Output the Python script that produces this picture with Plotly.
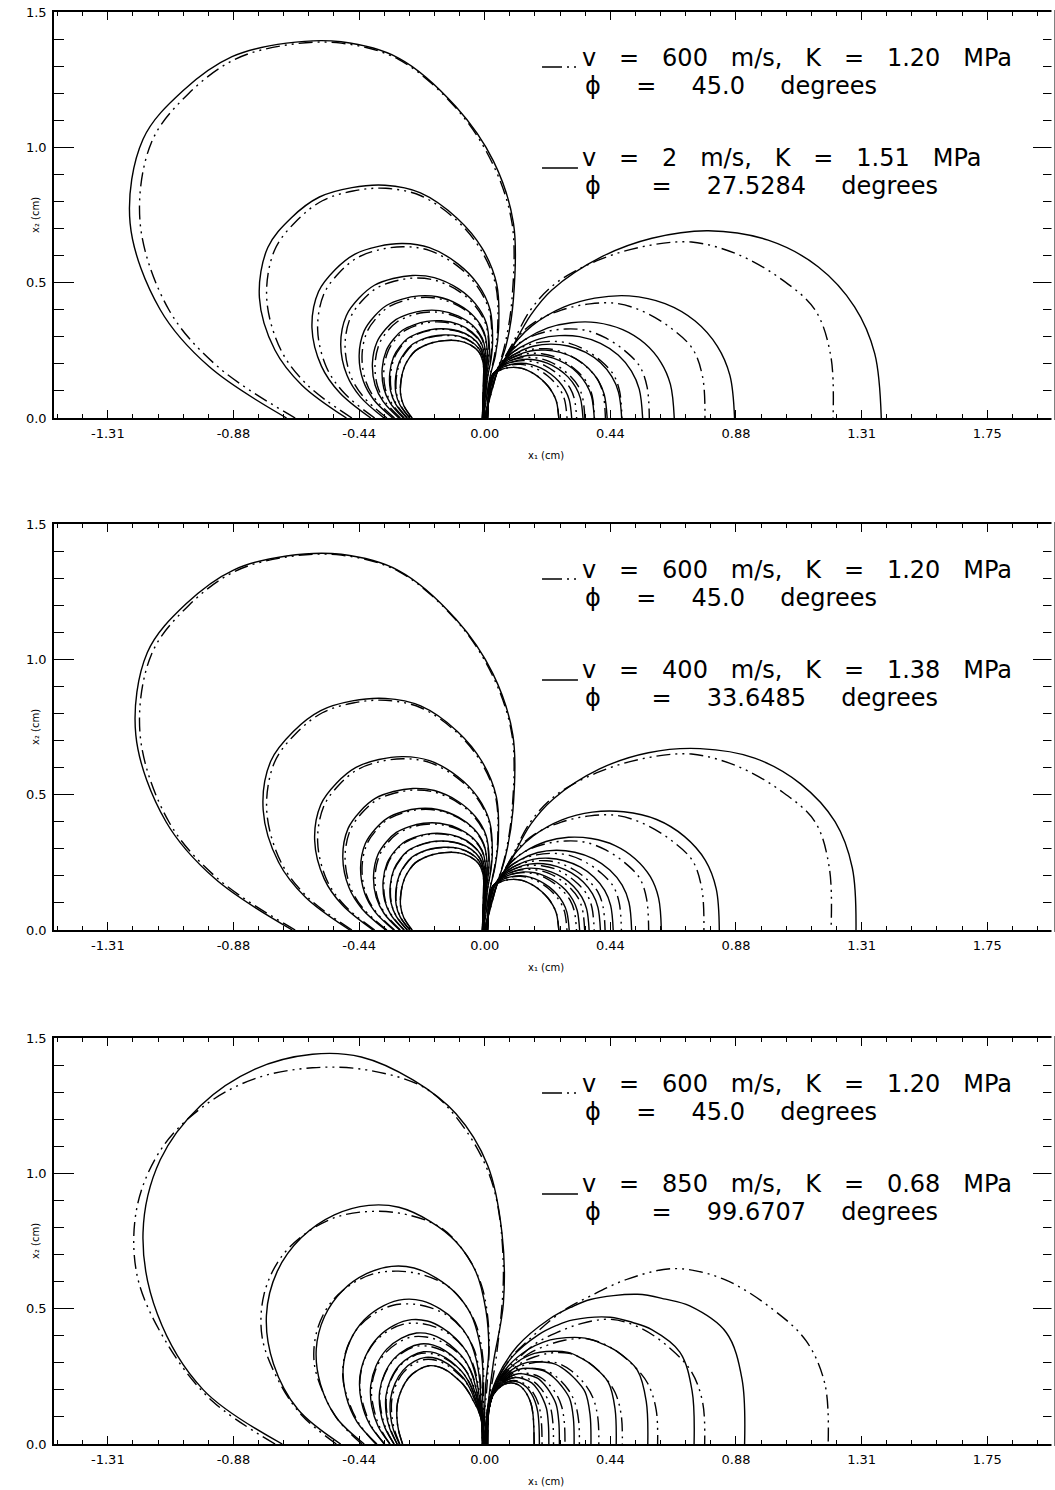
import plotly.graph_objects as go

# ---------------- axes ----------------
X_RANGE = [-1.5, 1.979]
Y_RANGE = [0.0, 1.5]
X_TICK_VALUES = [-1.3125, -0.875, -0.4375, 0.0, 0.4375, 0.875, 1.3125, 1.75]
X_TICK_LABELS = ["-1.31", "-0.88", "-0.44", "0.00", "0.44", "0.88", "1.31", "1.75"]
Y_TICK_VALUES = [0.0, 0.5, 1.0, 1.5]
Y_TICK_LABELS = ["0.0", "0.5", "1.0", "1.5"]
X_TITLE = "x\u2081 (cm)"
Y_TITLE = "x\u2082 (cm)"

# ---------------- legend texts ----------------
REF_LINE1 = "v = 600 m/s, K = 1.20 MPa"
REF_LINE2 = "\u03d5 = 45.0 degrees"
P1_LINE1 = "v = 2 m/s, K = 1.51 MPa"
P1_LINE2 = "\u03d5  = 27.5284 degrees"
P2_LINE1 = "v = 400 m/s, K = 1.38 MPa"
P2_LINE2 = "\u03d5  = 33.6485 degrees"
P3_LINE1 = "v = 850 m/s, K = 0.68 MPa"
P3_LINE2 = "\u03d5  = 99.6707 degrees"

# ---------------- fringe outlines (x1, x2 in cm) ----------------
# Panel 1
P1_LEFT_INNER_X = [-0.253, -0.282, -0.293, -0.291, -0.279, -0.262, -0.242, -0.213, -0.18, -0.14, -0.09, -0.05, -0.022, -0.008, -0.004, -0.004, -0.008]
P1_LEFT_INNER_Y = [0.0, 0.046, 0.088, 0.142, 0.191, 0.223, 0.248, 0.266, 0.279, 0.286, 0.285, 0.27, 0.246, 0.215, 0.19, 0.15, 0.0]
P1_SOLID_LEFT_X = [-0.69, -0.96, -1.13, -1.235, -1.19, -1.05, -0.88, -0.69, -0.50, -0.30, -0.10, 0.03, 0.10, 0.10, 0.075, 0.04, 0.0]
P1_SOLID_LEFT_Y = [0.0, 0.19, 0.40, 0.72, 1.03, 1.21, 1.335, 1.385, 1.39, 1.33, 1.15, 0.95, 0.72, 0.44, 0.27, 0.16, 0.0]
P1_DASH_LEFT_X = [-0.66, -0.93, -1.10, -1.20, -1.16, -1.03, -0.87, -0.69, -0.50, -0.30, -0.10, 0.025, 0.095, 0.095, 0.07, 0.04, 0.0]
P1_DASH_LEFT_Y = [0.0, 0.19, 0.40, 0.72, 1.02, 1.20, 1.325, 1.378, 1.385, 1.325, 1.145, 0.945, 0.72, 0.44, 0.27, 0.16, 0.0]
P1_RIGHT_INNER_X = [0.01, 0.024, 0.038, 0.06, 0.085, 0.115, 0.145, 0.172, 0.198, 0.22, 0.238, 0.25, 0.258]
P1_RIGHT_INNER_Y = [0.0, 0.155, 0.168, 0.18, 0.186, 0.186, 0.178, 0.163, 0.142, 0.118, 0.09, 0.06, 0.0]
P1_SOLID_RIGHT_X = [0.0, 0.04, 0.09, 0.16, 0.234, 0.408, 0.582, 0.779, 0.987, 1.161, 1.288, 1.358, 1.381]
P1_SOLID_RIGHT_Y = [0.0, 0.16, 0.25, 0.38, 0.473, 0.596, 0.664, 0.692, 0.657, 0.559, 0.411, 0.239, 0.0]
P1_DASH_RIGHT_X = [0.0, 0.04, 0.09, 0.16, 0.25, 0.40, 0.56, 0.72, 0.88, 1.03, 1.15, 1.205, 1.213]
P1_DASH_RIGHT_Y = [0.0, 0.16, 0.26, 0.40, 0.50, 0.585, 0.635, 0.65, 0.605, 0.515, 0.40, 0.23, 0.0]
P1_SOLID_LEFT_ORDERS = [1.0, 0.523, 0.329, 0.223, 0.155, 0.106, 0.07, 0.042, 0.02, 0.0]
P1_DASH_LEFT_ORDERS = [1.0, 0.515, 0.32, 0.215, 0.15, 0.10, 0.066, 0.04, 0.018, 0.0]
P1_SOLID_RIGHT_ORDERS = [1.0, 0.545, 0.358, 0.26, 0.195, 0.15, 0.11, 0.075, 0.04, 0.0]
P1_DASH_RIGHT_ORDERS = [1.0, 0.533, 0.33, 0.23, 0.17, 0.13, 0.095, 0.065, 0.03, 0.0]

# Panel 2
P2_LEFT_INNER_X = [-0.253, -0.282, -0.293, -0.291, -0.279, -0.262, -0.242, -0.213, -0.18, -0.14, -0.09, -0.05, -0.022, -0.008, -0.004, -0.004, -0.008]
P2_LEFT_INNER_Y = [0.0, 0.046, 0.088, 0.142, 0.191, 0.223, 0.248, 0.266, 0.279, 0.286, 0.285, 0.27, 0.246, 0.215, 0.19, 0.15, 0.0]
P2_SOLID_LEFT_X = [-0.67, -0.94, -1.11, -1.215, -1.175, -1.04, -0.875, -0.69, -0.50, -0.30, -0.10, 0.028, 0.098, 0.098, 0.072, 0.04, 0.0]
P2_SOLID_LEFT_Y = [0.0, 0.19, 0.40, 0.72, 1.025, 1.205, 1.33, 1.382, 1.388, 1.328, 1.148, 0.948, 0.72, 0.44, 0.27, 0.16, 0.0]
P2_DASH_LEFT_X = [-0.66, -0.93, -1.10, -1.20, -1.16, -1.03, -0.87, -0.69, -0.50, -0.30, -0.10, 0.025, 0.095, 0.095, 0.07, 0.04, 0.0]
P2_DASH_LEFT_Y = [0.0, 0.19, 0.40, 0.72, 1.02, 1.20, 1.325, 1.378, 1.385, 1.325, 1.145, 0.945, 0.72, 0.44, 0.27, 0.16, 0.0]
P2_RIGHT_INNER_X = [0.01, 0.024, 0.038, 0.06, 0.085, 0.115, 0.145, 0.172, 0.198, 0.22, 0.238, 0.25, 0.258]
P2_RIGHT_INNER_Y = [0.0, 0.155, 0.168, 0.18, 0.186, 0.186, 0.178, 0.163, 0.142, 0.118, 0.09, 0.06, 0.0]
P2_SOLID_RIGHT_X = [0.0, 0.04, 0.09, 0.16, 0.24, 0.40, 0.57, 0.75, 0.94, 1.10, 1.22, 1.28, 1.293]
P2_SOLID_RIGHT_Y = [0.0, 0.16, 0.255, 0.39, 0.485, 0.595, 0.655, 0.67, 0.635, 0.54, 0.40, 0.23, 0.0]
P2_DASH_RIGHT_X = [0.0, 0.04, 0.09, 0.16, 0.25, 0.40, 0.56, 0.72, 0.88, 1.03, 1.15, 1.200, 1.206]
P2_DASH_RIGHT_Y = [0.0, 0.16, 0.26, 0.40, 0.50, 0.585, 0.635, 0.65, 0.605, 0.515, 0.40, 0.23, 0.0]
P2_SOLID_LEFT_ORDERS = [1.0, 0.52, 0.326, 0.22, 0.153, 0.104, 0.068, 0.041, 0.019, 0.0]
P2_DASH_LEFT_ORDERS = [1.0, 0.515, 0.32, 0.215, 0.15, 0.10, 0.066, 0.04, 0.018, 0.0]
P2_SOLID_RIGHT_ORDERS = [1.0, 0.54, 0.345, 0.245, 0.183, 0.14, 0.102, 0.07, 0.035, 0.0]
P2_DASH_RIGHT_ORDERS = [1.0, 0.533, 0.33, 0.23, 0.17, 0.13, 0.095, 0.065, 0.03, 0.0]

# Panel 3
P3_LEFT_INNER_X = [-0.286, -0.30, -0.306, -0.304, -0.29, -0.265, -0.23, -0.195, -0.16, -0.13, -0.10, -0.075, -0.055, -0.04, -0.025, -0.012, -0.008]
P3_LEFT_INNER_Y = [0.0, 0.05, 0.10, 0.15, 0.20, 0.245, 0.275, 0.289, 0.285, 0.27, 0.245, 0.22, 0.19, 0.16, 0.13, 0.09, 0.0]
P3_SOLID_LEFT_X = [-0.705, -0.98, -1.14, -1.19, -1.13, -0.99, -0.80, -0.60, -0.43, -0.25, -0.10, 0.01, 0.06, 0.065, 0.03, 0.01, 0.0]
P3_SOLID_LEFT_Y = [0.0, 0.20, 0.48, 0.78, 1.05, 1.25, 1.385, 1.44, 1.43, 1.345, 1.22, 1.03, 0.78, 0.52, 0.30, 0.13, 0.0]
P3_DASH_LEFT_X = [-0.73, -0.95, -1.10, -1.21, -1.21, -1.12, -0.97, -0.80, -0.60, -0.40, -0.20, -0.06, 0.03, 0.065, 0.04, 0.01, 0.0]
P3_DASH_LEFT_Y = [0.0, 0.16, 0.36, 0.62, 0.88, 1.10, 1.255, 1.35, 1.39, 1.38, 1.31, 1.15, 0.95, 0.65, 0.32, 0.13, 0.0]
P3_RIGHT_INNER_X = [0.01, 0.014, 0.025, 0.045, 0.068, 0.092, 0.116, 0.136, 0.151, 0.162, 0.168, 0.171, 0.172]
P3_RIGHT_INNER_Y = [0.0, 0.12, 0.172, 0.202, 0.22, 0.226, 0.219, 0.201, 0.176, 0.146, 0.11, 0.06, 0.0]
P3_SOLID_RIGHT_X = [0.0, 0.01, 0.041, 0.114, 0.224, 0.30, 0.368, 0.532, 0.63, 0.714, 0.841, 0.896, 0.905]
P3_SOLID_RIGHT_Y = [0.0, 0.13, 0.24, 0.362, 0.461, 0.505, 0.534, 0.553, 0.535, 0.51, 0.412, 0.24, 0.0]
P3_DASH_RIGHT_X = [0.0, 0.01, 0.078, 0.169, 0.27, 0.368, 0.50, 0.66, 0.83, 1.0, 1.12, 1.185, 1.196]
P3_DASH_RIGHT_Y = [0.0, 0.13, 0.30, 0.40, 0.49, 0.547, 0.61, 0.648, 0.61, 0.50, 0.38, 0.22, 0.0]
P3_SOLID_LEFT_ORDERS = [1.0, 0.515, 0.319, 0.213, 0.148, 0.105, 0.07, 0.045, 0.027, 0.0]
P3_DASH_LEFT_ORDERS = [1.0, 0.52, 0.32, 0.21, 0.145, 0.10, 0.068, 0.043, 0.022, 0.0]
P3_SOLID_RIGHT_ORDERS = [1.0, 0.76, 0.54, 0.39, 0.27, 0.19, 0.12, 0.07, 0.025, 0.0]
P3_DASH_RIGHT_ORDERS = [1.0, 0.58, 0.42, 0.30, 0.22, 0.154, 0.105, 0.066, 0.027, 0.0]

PANELS = [
    dict(solid_text=(P1_LINE1, P1_LINE2),
         left_inner=(P1_LEFT_INNER_X, P1_LEFT_INNER_Y), right_inner=(P1_RIGHT_INNER_X, P1_RIGHT_INNER_Y),
         solid_left=(P1_SOLID_LEFT_X, P1_SOLID_LEFT_Y), solid_right=(P1_SOLID_RIGHT_X, P1_SOLID_RIGHT_Y),
         dash_left=(P1_DASH_LEFT_X, P1_DASH_LEFT_Y), dash_right=(P1_DASH_RIGHT_X, P1_DASH_RIGHT_Y),
         solid_orders=(P1_SOLID_LEFT_ORDERS, P1_SOLID_RIGHT_ORDERS), dash_orders=(P1_DASH_LEFT_ORDERS, P1_DASH_RIGHT_ORDERS)),
    dict(solid_text=(P2_LINE1, P2_LINE2),
         left_inner=(P2_LEFT_INNER_X, P2_LEFT_INNER_Y), right_inner=(P2_RIGHT_INNER_X, P2_RIGHT_INNER_Y),
         solid_left=(P2_SOLID_LEFT_X, P2_SOLID_LEFT_Y), solid_right=(P2_SOLID_RIGHT_X, P2_SOLID_RIGHT_Y),
         dash_left=(P2_DASH_LEFT_X, P2_DASH_LEFT_Y), dash_right=(P2_DASH_RIGHT_X, P2_DASH_RIGHT_Y),
         solid_orders=(P2_SOLID_LEFT_ORDERS, P2_SOLID_RIGHT_ORDERS), dash_orders=(P2_DASH_LEFT_ORDERS, P2_DASH_RIGHT_ORDERS)),
    dict(solid_text=(P3_LINE1, P3_LINE2),
         left_inner=(P3_LEFT_INNER_X, P3_LEFT_INNER_Y), right_inner=(P3_RIGHT_INNER_X, P3_RIGHT_INNER_Y),
         solid_left=(P3_SOLID_LEFT_X, P3_SOLID_LEFT_Y), solid_right=(P3_SOLID_RIGHT_X, P3_SOLID_RIGHT_Y),
         dash_left=(P3_DASH_LEFT_X, P3_DASH_LEFT_Y), dash_right=(P3_DASH_RIGHT_X, P3_DASH_RIGHT_Y),
         solid_orders=(P3_SOLID_LEFT_ORDERS, P3_SOLID_RIGHT_ORDERS), dash_orders=(P3_DASH_LEFT_ORDERS, P3_DASH_RIGHT_ORDERS)),
]

# ---------------- layout geometry (pixels) ----------------
W, H = 1055, 1490
M_L, M_R, M_T, M_B = 54, 0, 12, 45
PLOT_W = W - M_L - M_R
PLOT_H = H - M_T - M_B
PANEL_TOPS = [12, 524, 1038]
PANEL_HEIGHT = 406

TICK_FONT = "DejaVu Sans, sans-serif"
TEXT_FONT = "DejaVu Sans, sans-serif"
DASH_STYLE = "14px,5px,2px,5px,2px,5px"
SAMPLE_DASH = "20px,5px,2px,5px,2px,20px"
LINE_W = 1.4
GAP_V = "\u00a0\u00a0\u00a0"
GAP_PHI = "\u00a0\u00a0\u00a0\u00a0\u2009"


def fringe_segments(inner, outer, orders):
    xs, ys = [], []
    ix, iy = inner
    ox, oy = outer
    for a in orders:
        for k in range(len(ix)):
            xs.append(ix[k] + a * (ox[k] - ix[k]))
            ys.append(iy[k] + a * (oy[k] - iy[k]))
        xs.append(None)
        ys.append(None)
    return xs, ys


def spaced(s, gap):
    return s.replace("  ", "\u00a0\u00a0 ").replace(" ", gap)


def axis_names(i):
    if i == 0:
        return "x", "y"
    return "x%d" % (i + 1), "y%d" % (i + 1)


fig = go.Figure()
annotations = []
shapes = []

for i, p in enumerate(PANELS):
    xr, yr = axis_names(i)
    for kind in ("dash", "solid"):
        lx, ly = fringe_segments(p["left_inner"], p[kind + "_left"], p[kind + "_orders"][0])
        rx, ry = fringe_segments(p["right_inner"], p[kind + "_right"], p[kind + "_orders"][1])
        fig.add_trace(go.Scatter(
            x=lx + rx, y=ly + ry, mode="lines", xaxis=xr, yaxis=yr,
            line=dict(color="black", width=LINE_W, shape="spline", smoothing=1.0,
                      dash=DASH_STYLE if kind == "dash" else "solid"),
            connectgaps=False, showlegend=False, hoverinfo="skip"))

    top = PANEL_TOPS[i]
    bottom = top + PANEL_HEIGHT

    def ydom(py):
        return (bottom - py) / PANEL_HEIGHT

    def xdom(px):
        return (px - M_L) / PLOT_W

    xd, yd = xr + " domain", yr + " domain"
    lines = [REF_LINE1, REF_LINE2, p["solid_text"][0], p["solid_text"][1]]
    gaps = [GAP_V, GAP_PHI, GAP_V, GAP_PHI]
    centers = [top + 46, top + 74, top + 146, top + 174]
    starts = [582, 585, 582, 585]
    for txt, gap, cy, sx in zip(lines, gaps, centers, starts):
        annotations.append(dict(
            text=spaced(txt, gap), xref=xd, yref=yd, x=xdom(sx), y=ydom(cy),
            xanchor="left", yanchor="middle", showarrow=False, borderpad=0,
            font=dict(family=TEXT_FONT, size=24, color="black")))
    shapes.append(dict(type="line", xref=xd, yref=yd, x0=xdom(543), x1=xdom(578),
                       y0=ydom(top + 55), y1=ydom(top + 55),
                       line=dict(color="black", width=LINE_W, dash=SAMPLE_DASH)))
    shapes.append(dict(type="line", xref=xd, yref=yd, x0=xdom(543), x1=xdom(579),
                       y0=ydom(top + 156), y1=ydom(top + 156),
                       line=dict(color="black", width=LINE_W)))
    # hide the mirrored right border line (the original frame runs past the page edge)
    shapes.append(dict(type="line", xref=xd, yref=yd, x0=1.0, x1=1.0, y0=-0.01, y1=1.01,
                       layer="above", line=dict(color="white", width=3)))
    # axis titles
    annotations.append(dict(
        text=X_TITLE, xref=xd, yref=yd,
        x=xdom(547), y=ydom(bottom + 37), xanchor="center", yanchor="middle", showarrow=False,
        borderpad=0, font=dict(family=TEXT_FONT, size=10, color="black")))
    annotations.append(dict(
        text=Y_TITLE, xref=xd, yref=yd,
        x=xdom(35), y=0.5, xanchor="center", yanchor="middle", showarrow=False, textangle=-90,
        borderpad=0, font=dict(family=TEXT_FONT, size=10, color="black")))

layout = dict(
    width=W, height=H, margin=dict(l=M_L, r=M_R, t=M_T, b=M_B),
    paper_bgcolor="white", plot_bgcolor="white", showlegend=False,
    annotations=annotations, shapes=shapes,
)

for i in range(3):
    top = PANEL_TOPS[i]
    bottom = top + PANEL_HEIGHT
    d0 = (H - M_B - bottom) / PLOT_H
    d1 = (H - M_B - top) / PLOT_H
    xr, yr = axis_names(i)
    xname = "xaxis" if i == 0 else "xaxis%d" % (i + 1)
    yname = "yaxis" if i == 0 else "yaxis%d" % (i + 1)
    layout[xname] = dict(
        domain=[0, 1], anchor=yr, range=X_RANGE, showgrid=False, zeroline=False,
        showline=True, linecolor="black", linewidth=1.5, mirror="ticks",
        ticks="inside", ticklen=8, tickwidth=1.2, tickcolor="black",
        tickmode="array", tickvals=X_TICK_VALUES, ticktext=X_TICK_LABELS,
        tickfont=dict(family=TICK_FONT, size=13, color="black"), ticklabelstandoff=3,
        minor=dict(ticks="inside", ticklen=4, tickwidth=1.0, tickcolor="black",
                   tickmode="linear", tick0=0.0, dtick=0.0875, showgrid=False))
    layout[yname] = dict(
        domain=[max(0, d0), min(1, d1)], anchor=xr, range=Y_RANGE, showgrid=False, zeroline=False,
        showline=True, linecolor="black", linewidth=1.5, mirror="ticks",
        ticks="inside", ticklen=20, tickwidth=1.2, tickcolor="black",
        tickmode="array", tickvals=Y_TICK_VALUES, ticktext=Y_TICK_LABELS,
        tickfont=dict(family=TICK_FONT, size=13, color="black"), ticklabelstandoff=3,
        minor=dict(ticks="inside", ticklen=10, tickwidth=1.0, tickcolor="black",
                   tickmode="linear", tick0=0.0, dtick=0.1, showgrid=False))

fig.update_layout(**layout)
fig.write_html("out.html")
